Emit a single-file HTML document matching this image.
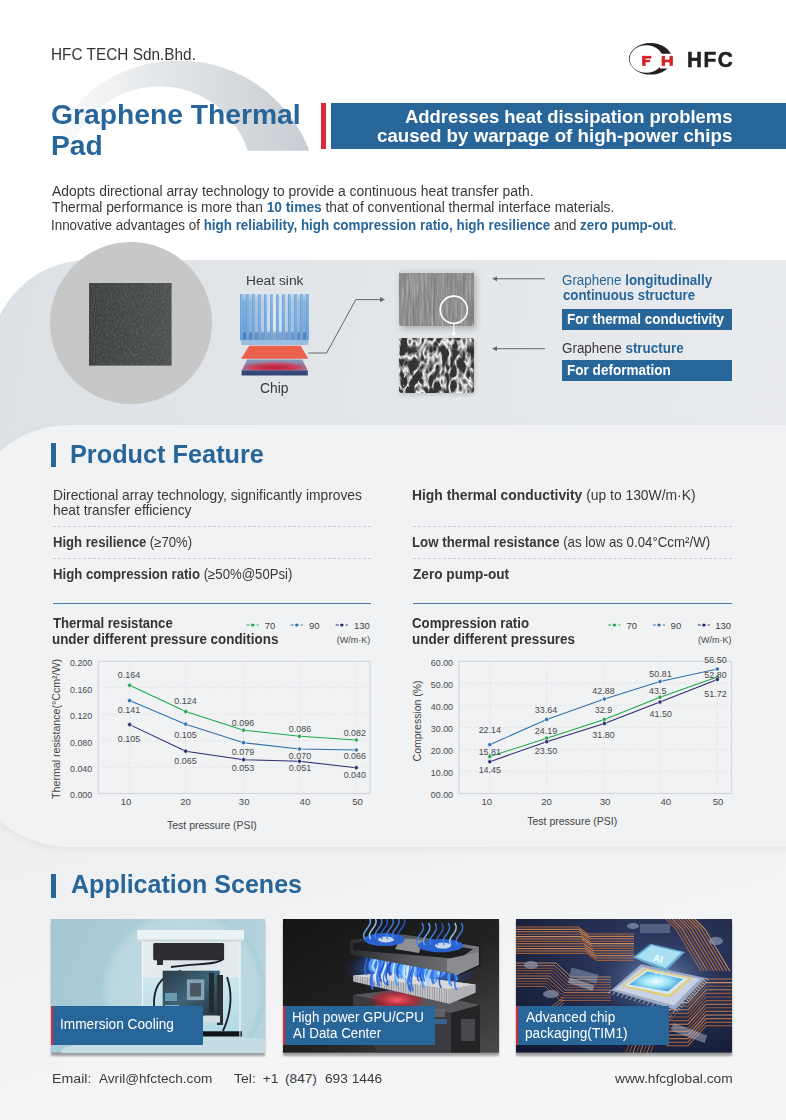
<!DOCTYPE html>
<html><head><meta charset="utf-8"><style>
html,body{margin:0;padding:0;}
body{width:786px;height:1120px;overflow:hidden;position:relative;background:#fff;font-family:"Liberation Sans",sans-serif;}
.t{position:absolute;white-space:pre;}
.t b{font-weight:700;}
.abs{position:absolute;}
</style></head><body>
<div class="abs" style="left:0;top:500px;width:786px;height:620px;background:linear-gradient(165deg,#e4e5e7 0px,#eceef0 300px,#f4f5f6 620px);"></div>
<svg class="abs" style="left:0;top:0" width="786" height="160" viewBox="0 0 786 160">
<defs><linearGradient id="arcg" x1="40" y1="0" x2="315" y2="0" gradientUnits="userSpaceOnUse">
<stop offset="0" stop-color="#ffffff"/><stop offset="0.45" stop-color="#e3e6e9"/><stop offset="1" stop-color="#c6ccd2"/></linearGradient>
<clipPath id="arcc"><rect x="0" y="0" width="786" height="150.8"/></clipPath></defs>
<path clip-path="url(#arcc)" fill="url(#arcg)" fill-rule="evenodd" d="M 38.5 200.4 A 140 140 0 1 0 318.5 200.4 A 140 140 0 1 0 38.5 200.4 Z M 66.8 178.8 A 92.6 92.6 0 1 0 252 178.8 A 92.6 92.6 0 1 0 66.8 178.8 Z"/>
</svg>
<div class="abs" style="left:-10px;top:260px;width:810px;height:260px;border-top-left-radius:98px;background:linear-gradient(100deg,#dce1e5 0%,#e3e6e9 45%,#e9ebee 100%);"></div>
<div class="abs" style="left:-35px;top:424.5px;width:830px;height:422px;border-radius:104px 0 0 104px;background:#f1f2f4;box-shadow:0 3px 8px rgba(0,0,0,0.05);"></div>
<div class="abs" style="left:321px;top:103px;width:5px;height:46.2px;background:#d92a35;"></div>
<div class="abs" style="left:331px;top:103px;width:455px;height:46.2px;background:#28669a;"></div>
<svg class="abs" style="left:0;top:0" width="786" height="90" viewBox="0 0 786 90">
<defs><clipPath id="lgc"><path d="M 600 30 H 700 V 53.8 H 660 V 68.4 H 700 V 90 H 600 Z"/></clipPath></defs>
<path clip-path="url(#lgc)" fill="#231f20" fill-rule="evenodd" d="M 629 58.8 A 21.5 15.8 0 1 0 672 58.8 A 21.5 15.8 0 1 0 629 58.8 Z M 629.7 59 A 16.6 13.8 0 1 0 662.9 59 A 16.6 13.8 0 1 0 629.7 59 Z"/>
<g fill="#d8232a">
<rect x="642.2" y="55.9" width="3.4" height="10"/><rect x="642.2" y="55.9" width="9.2" height="2.7"/><rect x="642.2" y="59.8" width="7.8" height="2.5"/>
<rect x="661.7" y="55.9" width="3.3" height="10"/><rect x="669.5" y="55.9" width="3.3" height="10"/><rect x="661.7" y="59.6" width="11" height="2.7"/>
</g></svg>
<div class="abs" style="left:49.7px;top:241.5px;width:162px;height:162px;border-radius:50%;background:#c7c7c7;"></div>
<svg class="abs" style="left:0;top:0" width="786" height="420" viewBox="0 0 786 420">
<defs>
<filter id="nz1" x="0" y="0" width="1" height="1"><feTurbulence type="fractalNoise" baseFrequency="0.9 0.35" numOctaves="2" seed="4" result="n"/><feColorMatrix in="n" type="matrix" values="0 0 0 0 0.40  0 0 0 0 0.43  0 0 0 0 0.41  0.55 0 0 0 -0.22"/><feComposite in2="SourceGraphic" operator="in"/></filter>
<linearGradient id="sqg" x1="0" y1="0" x2="1" y2="0"><stop offset="0" stop-color="#3c403d"/><stop offset="1" stop-color="#4c514d"/></linearGradient>
</defs>
<rect x="89" y="283" width="82.6" height="82.6" fill="url(#sqg)"/>
<rect x="89" y="283" width="82.6" height="82.6" fill="#fff" filter="url(#nz1)"/>
</svg>
<svg class="abs" style="left:0;top:0" width="786" height="420" viewBox="0 0 786 420">
<defs>
<linearGradient id="fin" x1="0" y1="0" x2="0" y2="1"><stop offset="0" stop-color="#86b8e4"/><stop offset="1" stop-color="#6fa6da"/></linearGradient>
<linearGradient id="gap" x1="0" y1="0" x2="1" y2="0"><stop offset="0" stop-color="#5a92d2"/><stop offset="0.5" stop-color="#dfe5eb"/><stop offset="1" stop-color="#6a9cd6"/></linearGradient>
<linearGradient id="gapv" x1="0" y1="0" x2="0" y2="1"><stop offset="0" stop-color="#e0e4e8" stop-opacity="0.7"/><stop offset="0.15" stop-color="#e0e4e8" stop-opacity="0.25"/><stop offset="0.75" stop-color="#fff" stop-opacity="0"/><stop offset="0.85" stop-color="#2a5aa0" stop-opacity="0.45"/><stop offset="1" stop-color="#2a5aa0" stop-opacity="0.45"/></linearGradient>
<radialGradient id="chipr" cx="0.5" cy="0.75" r="0.6"><stop offset="0" stop-color="#c01c3a"/><stop offset="0.55" stop-color="#c8405a"/><stop offset="1" stop-color="#8796b8"/></radialGradient>
</defs>
<rect x="240.1" y="294.3" width="68.7" height="46" fill="url(#gap)"/>
<rect x="240.1" y="294.3" width="68.7" height="46" fill="url(#gapv)"/>
<rect x="240.10" y="294.3" width="2.7" height="45.6" fill="url(#fin)"/><rect x="240.10" y="294.3" width="0.7" height="45.6" fill="#5f98d6" opacity="0.8"/><rect x="246.12" y="294.3" width="2.7" height="45.6" fill="url(#fin)"/><rect x="246.12" y="294.3" width="0.7" height="45.6" fill="#5f98d6" opacity="0.8"/><rect x="252.14" y="294.3" width="2.7" height="45.6" fill="url(#fin)"/><rect x="252.14" y="294.3" width="0.7" height="45.6" fill="#5f98d6" opacity="0.8"/><rect x="258.16" y="294.3" width="2.7" height="45.6" fill="url(#fin)"/><rect x="258.16" y="294.3" width="0.7" height="45.6" fill="#5f98d6" opacity="0.8"/><rect x="264.18" y="294.3" width="2.7" height="45.6" fill="url(#fin)"/><rect x="264.18" y="294.3" width="0.7" height="45.6" fill="#5f98d6" opacity="0.8"/><rect x="270.20" y="294.3" width="2.7" height="45.6" fill="url(#fin)"/><rect x="270.20" y="294.3" width="0.7" height="45.6" fill="#5f98d6" opacity="0.8"/><rect x="276.22" y="294.3" width="2.7" height="45.6" fill="url(#fin)"/><rect x="276.22" y="294.3" width="0.7" height="45.6" fill="#5f98d6" opacity="0.8"/><rect x="282.24" y="294.3" width="2.7" height="45.6" fill="url(#fin)"/><rect x="282.24" y="294.3" width="0.7" height="45.6" fill="#5f98d6" opacity="0.8"/><rect x="288.26" y="294.3" width="2.7" height="45.6" fill="url(#fin)"/><rect x="288.26" y="294.3" width="0.7" height="45.6" fill="#5f98d6" opacity="0.8"/><rect x="294.28" y="294.3" width="2.7" height="45.6" fill="url(#fin)"/><rect x="294.28" y="294.3" width="0.7" height="45.6" fill="#5f98d6" opacity="0.8"/><rect x="300.30" y="294.3" width="2.7" height="45.6" fill="url(#fin)"/><rect x="300.30" y="294.3" width="0.7" height="45.6" fill="#5f98d6" opacity="0.8"/><rect x="306.32" y="294.3" width="2.7" height="45.6" fill="url(#fin)"/><rect x="306.32" y="294.3" width="0.7" height="45.6" fill="#5f98d6" opacity="0.8"/>
<rect x="241.2" y="339.9" width="67.1" height="5.1" fill="#98bfe2"/>
<polygon points="249.2,345.8 300.6,345.8 308.3,358.7 241.1,358.7" fill="#ea624d"/>
<polygon points="247.2,359.5 302.2,359.5 307.8,370.4 241.6,370.4" fill="url(#chipr)"/>
<rect x="241.6" y="370.4" width="66.2" height="5.1" fill="#34487a"/>
<polyline points="308.3,353 326.6,353 355.8,299.6 381,299.6" fill="none" stroke="#666" stroke-width="1"/>
<polygon points="380,297 385,299.6 380,302.2" fill="#666"/>
<line x1="494" y1="278.8" x2="545" y2="278.8" stroke="#666" stroke-width="1"/>
<polygon points="492,278.8 497,276.4 497,281.2" fill="#666"/>
<line x1="494" y1="348.7" x2="545" y2="348.7" stroke="#666" stroke-width="1"/>
<polygon points="492,348.7 497,346.3 497,351.1" fill="#666"/>
</svg>
<div class="abs" style="left:399px;top:270.8px;width:74.7px;height:55.2px;border-radius:3px;background:#7e7e7e;box-shadow:2px 3px 6px rgba(0,0,0,0.25);"></div>
<div class="abs" style="left:399px;top:337.9px;width:74.7px;height:55.1px;border-radius:3px;background:#333;box-shadow:1px 2px 4px rgba(0,0,0,0.15);"></div>
<svg class="abs" style="left:0;top:0" width="786" height="420" viewBox="0 0 786 420">
<defs>
<filter id="nz2" x="0" y="0" width="1" height="1"><feTurbulence type="fractalNoise" baseFrequency="0.5 0.03" numOctaves="3" seed="9" result="n"/><feColorMatrix in="n" type="matrix" values="0 0 0 0 0.78  0 0 0 0 0.78  0 0 0 0 0.78  1.3 0 0 0 -0.5"/><feComposite in2="SourceGraphic" operator="in"/></filter>
<filter id="nz2b" x="0" y="0" width="1" height="1"><feTurbulence type="fractalNoise" baseFrequency="0.45 0.03" numOctaves="3" seed="3" result="n"/><feColorMatrix in="n" type="matrix" values="0 0 0 0 0.3  0 0 0 0 0.3  0 0 0 0 0.3  1.8 0 0 0 -0.6"/><feComposite in2="SourceGraphic" operator="in"/></filter>
<filter id="nz3" x="0" y="0" width="1" height="1"><feTurbulence type="turbulence" baseFrequency="0.12 0.07" numOctaves="2" seed="2" result="n"/><feColorMatrix in="n" type="matrix" values="0 0 0 0 0.9  0 0 0 0 0.9  0 0 0 0 0.9  -3.6 0 0 0 1.15"/><feComposite in2="SourceGraphic" operator="in"/></filter>
<clipPath id="sem1"><rect x="399" y="270.8" width="74.7" height="55.2" rx="3"/></clipPath>
<clipPath id="sem2"><rect x="399" y="337.9" width="74.7" height="55.1" rx="3"/></clipPath>
</defs>
<g clip-path="url(#sem1)">
<rect x="399" y="270.8" width="74.7" height="55.2" fill="#fff" filter="url(#nz2)"/>
<rect x="399" y="270.8" width="74.7" height="55.2" fill="#fff" filter="url(#nz2b)"/>
<rect x="399" y="270.8" width="74.7" height="2.2" fill="#d8d8d8"/>
</g>
<g clip-path="url(#sem2)">
<rect x="399" y="337.9" width="74.7" height="55.1" fill="#fff" filter="url(#nz3)"/>
</g>
<circle cx="453.8" cy="309.7" r="13.6" fill="none" stroke="#fff" stroke-width="1.6"/>
<line x1="453.8" y1="323.3" x2="453.8" y2="334" stroke="#fff" stroke-width="1.2"/>
<polygon points="451.4,332.5 456.2,332.5 453.8,336.5" fill="#fff"/>
</svg>
<div class="abs" style="left:562px;top:309px;width:170px;height:20.5px;background:#28669a;"></div>
<div class="abs" style="left:562px;top:360px;width:170px;height:21px;background:#28669a;"></div>
<div class="abs" style="left:50.8px;top:443px;width:5.4px;height:23.8px;background:#28669a;"></div>
<div class="abs" style="left:50.8px;top:873.6px;width:5.3px;height:24px;background:#28669a;"></div>
<div class="abs" style="left:53px;top:526px;width:318px;height:0;border-top:1px dashed #c9ccd0;"></div>
<div class="abs" style="left:53px;top:557.5px;width:318px;height:0;border-top:1px dashed #c9ccd0;"></div>
<div class="abs" style="left:53px;top:602.5px;width:318px;height:1.5px;background:#4a7cab;"></div>
<div class="abs" style="left:413px;top:526px;width:319px;height:0;border-top:1px dashed #c9ccd0;"></div>
<div class="abs" style="left:413px;top:557.5px;width:319px;height:0;border-top:1px dashed #c9ccd0;"></div>
<div class="abs" style="left:413px;top:602.5px;width:319px;height:1.5px;background:#4a7cab;"></div>
<svg class="abs" style="left:0;top:0" width="786" height="1120" viewBox="0 0 786 1120" font-family="Liberation Sans">
<rect x="98.3" y="661.3" width="271.7" height="132.20000000000005" fill="none" stroke="#d3d6da" stroke-width="1.2"/>
<line x1="98.3" y1="687.74" x2="370.0" y2="687.74" stroke="#dfe2e5" stroke-width="0.8" stroke-dasharray="3 2"/>
<line x1="98.3" y1="714.18" x2="370.0" y2="714.18" stroke="#dfe2e5" stroke-width="0.8" stroke-dasharray="3 2"/>
<line x1="98.3" y1="740.62" x2="370.0" y2="740.62" stroke="#dfe2e5" stroke-width="0.8" stroke-dasharray="3 2"/>
<line x1="98.3" y1="767.06" x2="370.0" y2="767.06" stroke="#dfe2e5" stroke-width="0.8" stroke-dasharray="3 2"/>
<line x1="129.6" y1="661.3" x2="129.6" y2="793.5" stroke="#dfe2e5" stroke-width="0.8" stroke-dasharray="3 2"/>
<line x1="185.7" y1="661.3" x2="185.7" y2="793.5" stroke="#dfe2e5" stroke-width="0.8" stroke-dasharray="3 2"/>
<line x1="243.6" y1="661.3" x2="243.6" y2="793.5" stroke="#dfe2e5" stroke-width="0.8" stroke-dasharray="3 2"/>
<line x1="299.5" y1="661.3" x2="299.5" y2="793.5" stroke="#dfe2e5" stroke-width="0.8" stroke-dasharray="3 2"/>
<line x1="356.3" y1="661.3" x2="356.3" y2="793.5" stroke="#dfe2e5" stroke-width="0.8" stroke-dasharray="3 2"/>
<text transform="translate(92.2,798.40) scale(0.925,1)" font-size="9.6" fill="#4a4a4a" text-anchor="end">0.000</text>
<text transform="translate(92.2,771.96) scale(0.925,1)" font-size="9.6" fill="#4a4a4a" text-anchor="end">0.040</text>
<text transform="translate(92.2,745.52) scale(0.925,1)" font-size="9.6" fill="#4a4a4a" text-anchor="end">0.080</text>
<text transform="translate(92.2,719.08) scale(0.925,1)" font-size="9.6" fill="#4a4a4a" text-anchor="end">0.120</text>
<text transform="translate(92.2,692.64) scale(0.925,1)" font-size="9.6" fill="#4a4a4a" text-anchor="end">0.160</text>
<text transform="translate(92.2,666.20) scale(0.925,1)" font-size="9.6" fill="#4a4a4a" text-anchor="end">0.200</text>
<text x="126" y="805" font-size="9.6" fill="#4a4a4a" text-anchor="middle">10</text>
<text x="185.5" y="805" font-size="9.6" fill="#4a4a4a" text-anchor="middle">20</text>
<text x="244.2" y="805" font-size="9.6" fill="#4a4a4a" text-anchor="middle">30</text>
<text x="304.9" y="805" font-size="9.6" fill="#4a4a4a" text-anchor="middle">40</text>
<text x="357.5" y="805" font-size="9.6" fill="#4a4a4a" text-anchor="middle">50</text>
<polyline points="129.6,685.3 185.7,711.6 243.6,730.2 299.5,736.3 356.3,740.0" fill="none" stroke="#1fa64a" stroke-width="1.05"/>
<circle cx="129.6" cy="685.3" r="2.1" fill="#1fa64a" stroke="#f1f2f4" stroke-width="0.7"/>
<circle cx="185.7" cy="711.6" r="2.1" fill="#1fa64a" stroke="#f1f2f4" stroke-width="0.7"/>
<circle cx="243.6" cy="730.2" r="2.1" fill="#1fa64a" stroke="#f1f2f4" stroke-width="0.7"/>
<circle cx="299.5" cy="736.3" r="2.1" fill="#1fa64a" stroke="#f1f2f4" stroke-width="0.7"/>
<circle cx="356.3" cy="740.0" r="2.1" fill="#1fa64a" stroke="#f1f2f4" stroke-width="0.7"/>
<polyline points="129.6,700.6 185.7,724.2 243.6,742.7 299.5,749.0 356.3,750.0" fill="none" stroke="#2f70b0" stroke-width="1.05"/>
<circle cx="129.6" cy="700.6" r="2.1" fill="#2f70b0" stroke="#f1f2f4" stroke-width="0.7"/>
<circle cx="185.7" cy="724.2" r="2.1" fill="#2f70b0" stroke="#f1f2f4" stroke-width="0.7"/>
<circle cx="243.6" cy="742.7" r="2.1" fill="#2f70b0" stroke="#f1f2f4" stroke-width="0.7"/>
<circle cx="299.5" cy="749.0" r="2.1" fill="#2f70b0" stroke="#f1f2f4" stroke-width="0.7"/>
<circle cx="356.3" cy="750.0" r="2.1" fill="#2f70b0" stroke="#f1f2f4" stroke-width="0.7"/>
<polyline points="129.6,724.6 185.7,751.2 243.6,759.7 299.5,761.3 356.3,767.7" fill="none" stroke="#2a2a6e" stroke-width="1.05"/>
<circle cx="129.6" cy="724.6" r="2.1" fill="#2a2a6e" stroke="#f1f2f4" stroke-width="0.7"/>
<circle cx="185.7" cy="751.2" r="2.1" fill="#2a2a6e" stroke="#f1f2f4" stroke-width="0.7"/>
<circle cx="243.6" cy="759.7" r="2.1" fill="#2a2a6e" stroke="#f1f2f4" stroke-width="0.7"/>
<circle cx="299.5" cy="761.3" r="2.1" fill="#2a2a6e" stroke="#f1f2f4" stroke-width="0.7"/>
<circle cx="356.3" cy="767.7" r="2.1" fill="#2a2a6e" stroke="#f1f2f4" stroke-width="0.7"/>
<text transform="translate(129,678) scale(0.92,1)" font-size="9.7" fill="#4a4a4a" text-anchor="middle">0.164</text>
<text transform="translate(185.5,703.6) scale(0.92,1)" font-size="9.7" fill="#4a4a4a" text-anchor="middle">0.124</text>
<text transform="translate(243,725.6) scale(0.92,1)" font-size="9.7" fill="#4a4a4a" text-anchor="middle">0.096</text>
<text transform="translate(300,732) scale(0.92,1)" font-size="9.7" fill="#4a4a4a" text-anchor="middle">0.086</text>
<text transform="translate(354.8,735.9) scale(0.92,1)" font-size="9.7" fill="#4a4a4a" text-anchor="middle">0.082</text>
<text transform="translate(129,712.7) scale(0.92,1)" font-size="9.7" fill="#4a4a4a" text-anchor="middle">0.141</text>
<text transform="translate(185.5,737.6) scale(0.92,1)" font-size="9.7" fill="#4a4a4a" text-anchor="middle">0.105</text>
<text transform="translate(243,754.7) scale(0.92,1)" font-size="9.7" fill="#4a4a4a" text-anchor="middle">0.079</text>
<text transform="translate(300,759.2) scale(0.92,1)" font-size="9.7" fill="#4a4a4a" text-anchor="middle">0.070</text>
<text transform="translate(354.8,759.2) scale(0.92,1)" font-size="9.7" fill="#4a4a4a" text-anchor="middle">0.066</text>
<text transform="translate(129,741.9) scale(0.92,1)" font-size="9.7" fill="#4a4a4a" text-anchor="middle">0.105</text>
<text transform="translate(185.5,763.5) scale(0.92,1)" font-size="9.7" fill="#4a4a4a" text-anchor="middle">0.065</text>
<text transform="translate(243,771.4) scale(0.92,1)" font-size="9.7" fill="#4a4a4a" text-anchor="middle">0.053</text>
<text transform="translate(300,771.4) scale(0.92,1)" font-size="9.7" fill="#4a4a4a" text-anchor="middle">0.051</text>
<text transform="translate(354.8,777.8) scale(0.92,1)" font-size="9.7" fill="#4a4a4a" text-anchor="middle">0.040</text>
<line x1="246.6" y1="625" x2="258.6" y2="625" stroke="#1fa64a" stroke-width="1" stroke-dasharray="3 2"/>
<circle cx="252.6" cy="625" r="1.6" fill="#1fa64a"/>
<text x="264.7" y="629" font-size="9.5" fill="#444">70</text>
<line x1="290.7" y1="625" x2="302.7" y2="625" stroke="#2f70b0" stroke-width="1" stroke-dasharray="3 2"/>
<circle cx="296.7" cy="625" r="1.6" fill="#2f70b0"/>
<text x="308.9" y="629" font-size="9.5" fill="#444">90</text>
<line x1="335.7" y1="625" x2="347.7" y2="625" stroke="#2a2a6e" stroke-width="1" stroke-dasharray="3 2"/>
<circle cx="341.7" cy="625" r="1.6" fill="#2a2a6e"/>
<text x="353.9" y="629" font-size="9.5" fill="#444">130</text>
<text x="370.29999999999995" y="643.3" font-size="9" fill="#444" text-anchor="end">(W/m·K)</text>
<text transform="translate(59.5,728.9) rotate(-90)" font-size="10.6" fill="#444" text-anchor="middle" textLength="140" lengthAdjust="spacingAndGlyphs">Thermal resistance(°Ccm²/W)</text>
<text x="167" y="828.5" font-size="10.8" fill="#444" textLength="89.80000000000001" lengthAdjust="spacingAndGlyphs">Test pressure (PSI)</text>
</svg>
<svg class="abs" style="left:0;top:0" width="786" height="1120" viewBox="0 0 786 1120" font-family="Liberation Sans">
<rect x="459.1" y="661.3" width="272.4" height="132.20000000000005" fill="none" stroke="#d3d6da" stroke-width="1.2"/>
<line x1="459.1" y1="683.33" x2="731.5" y2="683.33" stroke="#dfe2e5" stroke-width="0.8" stroke-dasharray="3 2"/>
<line x1="459.1" y1="705.37" x2="731.5" y2="705.37" stroke="#dfe2e5" stroke-width="0.8" stroke-dasharray="3 2"/>
<line x1="459.1" y1="727.40" x2="731.5" y2="727.40" stroke="#dfe2e5" stroke-width="0.8" stroke-dasharray="3 2"/>
<line x1="459.1" y1="749.43" x2="731.5" y2="749.43" stroke="#dfe2e5" stroke-width="0.8" stroke-dasharray="3 2"/>
<line x1="459.1" y1="771.47" x2="731.5" y2="771.47" stroke="#dfe2e5" stroke-width="0.8" stroke-dasharray="3 2"/>
<line x1="489.8" y1="661.3" x2="489.8" y2="793.5" stroke="#dfe2e5" stroke-width="0.8" stroke-dasharray="3 2"/>
<line x1="546.7" y1="661.3" x2="546.7" y2="793.5" stroke="#dfe2e5" stroke-width="0.8" stroke-dasharray="3 2"/>
<line x1="604.4" y1="661.3" x2="604.4" y2="793.5" stroke="#dfe2e5" stroke-width="0.8" stroke-dasharray="3 2"/>
<line x1="660.0" y1="661.3" x2="660.0" y2="793.5" stroke="#dfe2e5" stroke-width="0.8" stroke-dasharray="3 2"/>
<line x1="717.3" y1="661.3" x2="717.3" y2="793.5" stroke="#dfe2e5" stroke-width="0.8" stroke-dasharray="3 2"/>
<text transform="translate(453,798.40) scale(0.925,1)" font-size="9.6" fill="#4a4a4a" text-anchor="end">00.00</text>
<text transform="translate(453,776.37) scale(0.925,1)" font-size="9.6" fill="#4a4a4a" text-anchor="end">10.00</text>
<text transform="translate(453,754.33) scale(0.925,1)" font-size="9.6" fill="#4a4a4a" text-anchor="end">20.00</text>
<text transform="translate(453,732.30) scale(0.925,1)" font-size="9.6" fill="#4a4a4a" text-anchor="end">30.00</text>
<text transform="translate(453,710.27) scale(0.925,1)" font-size="9.6" fill="#4a4a4a" text-anchor="end">40.00</text>
<text transform="translate(453,688.23) scale(0.925,1)" font-size="9.6" fill="#4a4a4a" text-anchor="end">50.00</text>
<text transform="translate(453,666.20) scale(0.925,1)" font-size="9.6" fill="#4a4a4a" text-anchor="end">60.00</text>
<text x="486.8" y="805" font-size="9.6" fill="#4a4a4a" text-anchor="middle">10</text>
<text x="546.5" y="805" font-size="9.6" fill="#4a4a4a" text-anchor="middle">20</text>
<text x="605" y="805" font-size="9.6" fill="#4a4a4a" text-anchor="middle">30</text>
<text x="665.8" y="805" font-size="9.6" fill="#4a4a4a" text-anchor="middle">40</text>
<text x="718" y="805" font-size="9.6" fill="#4a4a4a" text-anchor="middle">50</text>
<polyline points="489.8,756.6 546.7,738.2 604.4,719.4 660.0,697.2 717.3,677.0" fill="none" stroke="#1fa64a" stroke-width="1.05"/>
<circle cx="489.8" cy="756.6" r="2.1" fill="#1fa64a" stroke="#f1f2f4" stroke-width="0.7"/>
<circle cx="546.7" cy="738.2" r="2.1" fill="#1fa64a" stroke="#f1f2f4" stroke-width="0.7"/>
<circle cx="604.4" cy="719.4" r="2.1" fill="#1fa64a" stroke="#f1f2f4" stroke-width="0.7"/>
<circle cx="660.0" cy="697.2" r="2.1" fill="#1fa64a" stroke="#f1f2f4" stroke-width="0.7"/>
<circle cx="717.3" cy="677.0" r="2.1" fill="#1fa64a" stroke="#f1f2f4" stroke-width="0.7"/>
<polyline points="489.8,744.7 546.7,719.4 604.4,699.0 660.0,681.5 717.3,669.0" fill="none" stroke="#2f70b0" stroke-width="1.05"/>
<circle cx="489.8" cy="744.7" r="2.1" fill="#2f70b0" stroke="#f1f2f4" stroke-width="0.7"/>
<circle cx="546.7" cy="719.4" r="2.1" fill="#2f70b0" stroke="#f1f2f4" stroke-width="0.7"/>
<circle cx="604.4" cy="699.0" r="2.1" fill="#2f70b0" stroke="#f1f2f4" stroke-width="0.7"/>
<circle cx="660.0" cy="681.5" r="2.1" fill="#2f70b0" stroke="#f1f2f4" stroke-width="0.7"/>
<circle cx="717.3" cy="669.0" r="2.1" fill="#2f70b0" stroke="#f1f2f4" stroke-width="0.7"/>
<polyline points="489.8,761.7 546.7,741.7 604.4,723.4 660.0,702.1 717.3,679.5" fill="none" stroke="#2a2a6e" stroke-width="1.05"/>
<circle cx="489.8" cy="761.7" r="2.1" fill="#2a2a6e" stroke="#f1f2f4" stroke-width="0.7"/>
<circle cx="546.7" cy="741.7" r="2.1" fill="#2a2a6e" stroke="#f1f2f4" stroke-width="0.7"/>
<circle cx="604.4" cy="723.4" r="2.1" fill="#2a2a6e" stroke="#f1f2f4" stroke-width="0.7"/>
<circle cx="660.0" cy="702.1" r="2.1" fill="#2a2a6e" stroke="#f1f2f4" stroke-width="0.7"/>
<circle cx="717.3" cy="679.5" r="2.1" fill="#2a2a6e" stroke="#f1f2f4" stroke-width="0.7"/>
<text transform="translate(489.8,733.3) scale(0.92,1)" font-size="9.7" fill="#4a4a4a" text-anchor="middle">22.14</text>
<text transform="translate(546,712.7) scale(0.92,1)" font-size="9.7" fill="#4a4a4a" text-anchor="middle">33.64</text>
<text transform="translate(603.5,693.5) scale(0.92,1)" font-size="9.7" fill="#4a4a4a" text-anchor="middle">42.88</text>
<text transform="translate(660.5,676.8) scale(0.92,1)" font-size="9.7" fill="#4a4a4a" text-anchor="middle">50.81</text>
<text transform="translate(715.5,662.6) scale(0.92,1)" font-size="9.7" fill="#4a4a4a" text-anchor="middle">56.50</text>
<text transform="translate(489.8,754.9) scale(0.92,1)" font-size="9.7" fill="#4a4a4a" text-anchor="middle">15.81</text>
<text transform="translate(546,733.9) scale(0.92,1)" font-size="9.7" fill="#4a4a4a" text-anchor="middle">24.19</text>
<text transform="translate(603.5,713.4) scale(0.92,1)" font-size="9.7" fill="#4a4a4a" text-anchor="middle">32.9</text>
<text transform="translate(657.7,693.5) scale(0.92,1)" font-size="9.7" fill="#4a4a4a" text-anchor="middle">43.5</text>
<text transform="translate(715.5,677.5) scale(0.92,1)" font-size="9.7" fill="#4a4a4a" text-anchor="middle">52.80</text>
<text transform="translate(489.8,773.3) scale(0.92,1)" font-size="9.7" fill="#4a4a4a" text-anchor="middle">14.45</text>
<text transform="translate(546,753.8) scale(0.92,1)" font-size="9.7" fill="#4a4a4a" text-anchor="middle">23.50</text>
<text transform="translate(603.5,738.2) scale(0.92,1)" font-size="9.7" fill="#4a4a4a" text-anchor="middle">31.80</text>
<text transform="translate(660.7,717.1) scale(0.92,1)" font-size="9.7" fill="#4a4a4a" text-anchor="middle">41.50</text>
<text transform="translate(715.5,697) scale(0.92,1)" font-size="9.7" fill="#4a4a4a" text-anchor="middle">51.72</text>
<line x1="608.3" y1="625" x2="620.3" y2="625" stroke="#1fa64a" stroke-width="1" stroke-dasharray="3 2"/>
<circle cx="614.3" cy="625" r="1.6" fill="#1fa64a"/>
<text x="626.5" y="629" font-size="9.5" fill="#444">70</text>
<line x1="652.9" y1="625" x2="664.9" y2="625" stroke="#2f70b0" stroke-width="1" stroke-dasharray="3 2"/>
<circle cx="658.9" cy="625" r="1.6" fill="#2f70b0"/>
<text x="670.6" y="629" font-size="9.5" fill="#444">90</text>
<line x1="697.8" y1="625" x2="709.8" y2="625" stroke="#2a2a6e" stroke-width="1" stroke-dasharray="3 2"/>
<circle cx="703.8" cy="625" r="1.6" fill="#2a2a6e"/>
<text x="715.2" y="629" font-size="9.5" fill="#444">130</text>
<text x="731.6" y="643.3" font-size="9" fill="#444" text-anchor="end">(W/m·K)</text>
<text transform="translate(420.59999999999997,720.9) rotate(-90)" font-size="10.6" fill="#444" text-anchor="middle" textLength="81" lengthAdjust="spacingAndGlyphs">Compression (%)</text>
<text x="527.2" y="825.2" font-size="10.8" fill="#444" textLength="90.0" lengthAdjust="spacingAndGlyphs">Test pressure (PSI)</text>
</svg>
<div class="abs" style="left:51.2px;top:919.2px;width:214.1px;height:133.6px;box-shadow:0 2.5px 2px rgba(0,0,0,0.35);background:#888;"></div>
<div class="abs" style="left:283px;top:919.2px;width:216.0px;height:133.6px;box-shadow:0 2.5px 2px rgba(0,0,0,0.35);background:#888;"></div>
<div class="abs" style="left:516px;top:919.2px;width:216.2px;height:133.6px;box-shadow:0 2.5px 2px rgba(0,0,0,0.35);background:#888;"></div>
<svg class="abs" style="left:51.2px;top:919.2px" width="214.1" height="133.6" viewBox="0 0 214.1 133.6">
<defs>
<linearGradient id="c1bg" x1="0" y1="0" x2="1" y2="0.3"><stop offset="0" stop-color="#a3c8d4"/><stop offset="1" stop-color="#b3d3dd"/></linearGradient>
<radialGradient id="c1circ" cx="0.5" cy="0.5" r="0.5"><stop offset="0" stop-color="#c2dce4"/><stop offset="0.9" stop-color="#bad7e0"/><stop offset="1" stop-color="#a9cdd8"/></radialGradient>
<linearGradient id="c1w" x1="0" y1="0" x2="0" y2="1"><stop offset="0" stop-color="#c9e6ee" stop-opacity="0.8"/><stop offset="1" stop-color="#a8d6e4" stop-opacity="0.9"/></linearGradient>
<linearGradient id="c1g" x1="0" y1="0" x2="1" y2="0"><stop offset="0" stop-color="#e6eef0"/><stop offset="0.5" stop-color="#d8e6ea"/><stop offset="1" stop-color="#e2ecef"/></linearGradient>
<linearGradient id="c1mb" x1="0" y1="0" x2="1" y2="1"><stop offset="0" stop-color="#2c3a48"/><stop offset="0.5" stop-color="#3d6478"/><stop offset="1" stop-color="#24303a"/></linearGradient>
</defs>
<rect width="214.1" height="133.6" fill="url(#c1bg)"/>
<circle cx="132.4" cy="72" r="82" fill="url(#c1circ)"/>
<ellipse cx="150" cy="132" rx="140" ry="14" fill="#c4dde4"/>
<rect x="90.9" y="22.3" width="98.6" height="95.2" fill="url(#c1g)"/>
<rect x="90.9" y="58.6" width="98.6" height="58.9" fill="url(#c1w)"/>
<rect x="86.1" y="11" width="106.9" height="11.3" fill="#eaf2f4"/>
<rect x="86.1" y="20.5" width="106.9" height="1.8" fill="#c8d8dc"/>
<rect x="102.2" y="24" width="70.9" height="17.3" rx="1.5" fill="#2b2d31"/>
<rect x="106" y="41" width="6" height="5" fill="#2b2d31"/>
<path d="M 104 96 C 100 70 108 56 130 52 M 120 48 C 150 44 165 46 172 40 M 176 58 C 182 75 180 95 172 112" fill="none" stroke="#1a1c1f" stroke-width="1.8"/>
<rect x="111.7" y="51.7" width="57.1" height="45" fill="url(#c1mb)"/>
<rect x="135.9" y="60.4" width="17.3" height="20.7" fill="#86a2b4"/>
<rect x="139" y="64" width="11" height="13.5" fill="#4a5660"/>
<rect x="114" y="74" width="12" height="8" fill="#6a9ab0"/>
<rect x="114" y="86" width="14" height="6" fill="#86aebe"/>
<rect x="158" y="54" width="5" height="40" fill="#1f2a33"/>
<rect x="166" y="56" width="6" height="50" fill="#2a3036"/>
<rect x="153" y="96.7" width="16" height="6.9" fill="#d8dde0"/>
<rect x="151.5" y="112.3" width="39.4" height="5.2" fill="#121314"/>
<rect x="90.9" y="22.3" width="1.2" height="95.2" fill="#f4f8f9" opacity="0.8"/>
<rect x="188.3" y="22.3" width="1.2" height="95.2" fill="#f4f8f9" opacity="0.8"/>
</svg>
<svg class="abs" style="left:283px;top:919.2px" width="216" height="133.6" viewBox="0 0 216 133.6">
<defs>
<linearGradient id="c2bg" x1="0" y1="0" x2="1" y2="1"><stop offset="0" stop-color="#141414"/><stop offset="0.55" stop-color="#222"/><stop offset="1" stop-color="#4a4a4a"/></linearGradient>
<radialGradient id="c2blue" cx="0.5" cy="0.5" r="0.5"><stop offset="0" stop-color="#bfe6ff"/><stop offset="0.45" stop-color="#3f88f4" stop-opacity="0.95"/><stop offset="1" stop-color="#1a3a9a" stop-opacity="0"/></radialGradient>
<radialGradient id="c2red" cx="0.5" cy="0.5" r="0.5"><stop offset="0" stop-color="#ff5868"/><stop offset="0.6" stop-color="#c02030" stop-opacity="0.7"/><stop offset="1" stop-color="#a01020" stop-opacity="0"/></radialGradient>
<linearGradient id="c2hs" x1="0" y1="0" x2="0" y2="1"><stop offset="0" stop-color="#d8d9db"/><stop offset="1" stop-color="#a4a6a9"/></linearGradient>
<linearGradient id="c2sh" x1="0" y1="0" x2="1" y2="0"><stop offset="0" stop-color="#2a2b2e"/><stop offset="0.5" stop-color="#5a5c60"/><stop offset="1" stop-color="#7a7c80"/></linearGradient>
<pattern id="c2fin" width="2.4" height="10" patternUnits="userSpaceOnUse"><rect width="2.4" height="10" fill="#c4c6c8"/><rect width="0.8" height="10" fill="#8e9093"/></pattern>
</defs>
<rect width="216" height="133.6" fill="url(#c2bg)"/>
<polygon points="70,76 120,70 197,86 197,133.6 95,133.6 70,100" fill="#3a3b3e"/>
<polygon points="70,76 120,70 197,86 168,94" fill="#56585c"/>
<polygon points="168,94 197,86 197,133.6 168,133.6" fill="#232426"/>
<rect x="178" y="100" width="14" height="22" fill="#55585c" opacity="0.7"/><rect x="140" y="90" width="22" height="8" fill="#6a6c70" opacity="0.8"/><rect x="150" y="100" width="14" height="5" fill="#3a6aa0" opacity="0.8"/><rect x="92" y="86" width="18" height="6" fill="#707276" opacity="0.7"/>
<ellipse cx="114" cy="81" rx="30" ry="11" fill="url(#c2red)"/>
<ellipse cx="128" cy="50" rx="66" ry="26" fill="url(#c2blue)"/><ellipse cx="128" cy="48" rx="40" ry="14" fill="#5aa0ff" opacity="0.6"/>
<polygon points="70.2,56.4 104,54 192.5,65.5 192.5,73.6 166.2,84.8 70.2,62.5" fill="url(#c2fin)"/>
<polygon points="70.2,56.4 104,54 192.5,65.5 166.2,70" fill="#d6d8da"/>
<polygon points="166.2,70 192.5,65.5 192.5,73.6 166.2,84.8" fill="#b0b2b5"/>
<path d="M 112.1 60.2 C 105.1 48.1 119.1 38.9 107.8 29.8" fill="none" stroke="#dff0ff" stroke-width="1.4" opacity="0.9"/><path d="M 136.2 62.4 C 129.2 53.0 143.2 45.9 132.1 38.9" fill="none" stroke="#1f4fc0" stroke-width="1.3" opacity="0.9"/><path d="M 90.4 66.3 C 83.4 53.0 97.4 43.1 86.7 33.1" fill="none" stroke="#2f6fe8" stroke-width="2.2" opacity="0.9"/><path d="M 136.2 58.1 C 129.2 46.4 143.2 37.6 131.7 28.7" fill="none" stroke="#2f6fe8" stroke-width="1.3" opacity="0.9"/><path d="M 161.8 53.8 C 154.8 44.9 168.8 38.2 158.0 31.5" fill="none" stroke="#9fd8ff" stroke-width="2.1" opacity="0.9"/><path d="M 145.4 58.4 C 138.4 46.7 152.4 38.0 142.3 29.2" fill="none" stroke="#4f9cff" stroke-width="2.1" opacity="0.9"/><path d="M 87.8 52.0 C 80.8 42.7 94.8 35.7 89.6 28.7" fill="none" stroke="#1f4fc0" stroke-width="2.4" opacity="0.9"/><path d="M 125.3 64.9 C 118.3 54.6 132.3 46.8 122.8 39.1" fill="none" stroke="#2f6fe8" stroke-width="2.3" opacity="0.9"/><path d="M 104.7 63.3 C 97.7 51.9 111.7 43.4 108.5 34.9" fill="none" stroke="#1f4fc0" stroke-width="1.7" opacity="0.9"/><path d="M 173.2 56.1 C 166.2 45.4 180.2 37.4 175.7 29.4" fill="none" stroke="#2f6fe8" stroke-width="2.7" opacity="0.9"/><path d="M 121.2 60.8 C 114.2 52.3 128.2 45.9 121.8 39.5" fill="none" stroke="#9fd8ff" stroke-width="1.7" opacity="0.9"/><path d="M 114.6 66.7 C 107.6 53.6 121.6 43.8 110.3 34.0" fill="none" stroke="#4f9cff" stroke-width="2.7" opacity="0.9"/><path d="M 126.1 56.9 C 119.1 48.6 133.1 42.3 128.1 36.0" fill="none" stroke="#dff0ff" stroke-width="2.8" opacity="0.9"/><path d="M 158.4 57.6 C 151.4 47.1 165.4 39.3 160.1 31.4" fill="none" stroke="#4f9cff" stroke-width="2.7" opacity="0.9"/><path d="M 115.1 63.2 C 108.1 52.1 122.1 43.7 112.2 35.3" fill="none" stroke="#9fd8ff" stroke-width="1.4" opacity="0.9"/><path d="M 105.0 66.6 C 98.0 53.1 112.0 42.9 100.8 32.7" fill="none" stroke="#1f4fc0" stroke-width="1.8" opacity="0.9"/><path d="M 107.8 56.5 C 100.8 45.8 114.8 37.7 108.3 29.6" fill="none" stroke="#1f4fc0" stroke-width="2.8" opacity="0.9"/><path d="M 145.5 56.3 C 138.5 46.8 152.5 39.7 141.3 32.6" fill="none" stroke="#2f6fe8" stroke-width="1.6" opacity="0.9"/><path d="M 103.7 63.2 C 96.7 51.5 110.7 42.6 101.3 33.8" fill="none" stroke="#4f9cff" stroke-width="1.4" opacity="0.9"/><path d="M 131.7 60.4 C 124.7 50.4 138.7 42.8 128.0 35.3" fill="none" stroke="#dff0ff" stroke-width="2.7" opacity="0.9"/><path d="M 142.9 64.2 C 135.9 53.3 149.9 45.1 146.6 36.9" fill="none" stroke="#dff0ff" stroke-width="1.8" opacity="0.9"/><path d="M 119.1 59.4 C 112.1 47.3 126.1 38.3 114.7 29.2" fill="none" stroke="#4f9cff" stroke-width="2.8" opacity="0.9"/><path d="M 123.0 58.9 C 116.0 47.1 130.0 38.2 119.0 29.3" fill="none" stroke="#dff0ff" stroke-width="1.4" opacity="0.9"/><path d="M 91.4 52.8 C 84.4 44.6 98.4 38.5 95.2 32.4" fill="none" stroke="#dff0ff" stroke-width="1.8" opacity="0.9"/><path d="M 141.0 69.1 C 134.0 57.2 148.0 48.4 140.7 39.5" fill="none" stroke="#4f9cff" stroke-width="2.6" opacity="0.9"/><path d="M 174.4 61.3 C 167.4 50.2 181.4 41.9 170.2 33.6" fill="none" stroke="#4f9cff" stroke-width="2.4" opacity="0.9"/><path d="M 150.9 64.8 C 143.9 52.4 157.9 43.1 151.0 33.7" fill="none" stroke="#2f6fe8" stroke-width="2.7" opacity="0.9"/><path d="M 131.1 58.4 C 124.1 47.0 138.1 38.4 126.4 29.8" fill="none" stroke="#dff0ff" stroke-width="1.7" opacity="0.9"/><path d="M 141.8 62.6 C 134.8 49.2 148.8 39.2 142.0 29.1" fill="none" stroke="#2f6fe8" stroke-width="1.8" opacity="0.9"/><path d="M 102.7 62.5 C 95.7 51.3 109.7 42.9 104.1 34.5" fill="none" stroke="#dff0ff" stroke-width="2.5" opacity="0.9"/><path d="M 173.6 71.1 C 166.6 58.0 180.6 48.1 176.8 38.2" fill="none" stroke="#2f6fe8" stroke-width="1.5" opacity="0.9"/><path d="M 127.8 72.6 C 120.8 58.3 134.8 47.5 130.7 36.8" fill="none" stroke="#1f4fc0" stroke-width="1.6" opacity="0.9"/><path d="M 146.4 66.6 C 139.4 55.8 153.4 47.6 150.8 39.5" fill="none" stroke="#9fd8ff" stroke-width="2.7" opacity="0.9"/><path d="M 115.9 54.3 C 108.9 44.8 122.9 37.7 112.9 30.6" fill="none" stroke="#2f6fe8" stroke-width="2.0" opacity="0.9"/><path d="M 173.6 55.4 C 166.6 47.3 180.6 41.3 177.7 35.3" fill="none" stroke="#9fd8ff" stroke-width="2.5" opacity="0.9"/><path d="M 89.9 70.5 C 82.9 56.7 96.9 46.3 92.7 35.9" fill="none" stroke="#2f6fe8" stroke-width="2.0" opacity="0.9"/><path d="M 98.6 62.8 C 91.6 52.7 105.6 45.1 101.6 37.5" fill="none" stroke="#1f4fc0" stroke-width="1.9" opacity="0.9"/><path d="M 151.1 51.6 C 144.1 42.5 158.1 35.8 156.1 29.0" fill="none" stroke="#4f9cff" stroke-width="1.4" opacity="0.9"/><path d="M 166.2 60.0 C 159.2 51.1 173.2 44.4 169.4 37.7" fill="none" stroke="#1f4fc0" stroke-width="2.3" opacity="0.9"/><path d="M 114.6 56.7 C 107.6 47.8 121.6 41.2 109.7 34.6" fill="none" stroke="#4f9cff" stroke-width="2.0" opacity="0.9"/><path d="M 168.8 67.2 C 161.8 53.6 175.8 43.4 172.1 33.2" fill="none" stroke="#2f6fe8" stroke-width="1.2" opacity="0.9"/><path d="M 101.8 66.2 C 94.8 53.3 108.8 43.7 100.0 34.0" fill="none" stroke="#dff0ff" stroke-width="1.9" opacity="0.9"/><path d="M 94.2 64.6 C 87.2 54.3 101.2 46.6 93.8 38.9" fill="none" stroke="#dff0ff" stroke-width="2.5" opacity="0.9"/><path d="M 130.1 72.0 C 123.1 58.4 137.1 48.1 126.4 37.9" fill="none" stroke="#2f6fe8" stroke-width="2.0" opacity="0.9"/><path d="M 83.7 56.2 C 76.7 47.0 90.7 40.2 78.8 33.3" fill="none" stroke="#2f6fe8" stroke-width="1.5" opacity="0.9"/><path d="M 126.0 65.6 C 119.0 54.0 133.0 45.4 124.3 36.7" fill="none" stroke="#dff0ff" stroke-width="2.0" opacity="0.9"/><path d="M 126.9 71.4 C 119.9 57.8 133.9 47.6 122.4 37.3" fill="none" stroke="#2f6fe8" stroke-width="1.6" opacity="0.9"/><path d="M 153.8 63.1 C 146.8 51.5 160.8 42.8 156.4 34.1" fill="none" stroke="#4f9cff" stroke-width="1.9" opacity="0.9"/><path d="M 139.0 62.3 C 132.0 51.0 146.0 42.5 140.9 34.1" fill="none" stroke="#1f4fc0" stroke-width="2.0" opacity="0.9"/><path d="M 157.1 58.1 C 150.1 48.5 164.1 41.3 157.3 34.1" fill="none" stroke="#9fd8ff" stroke-width="2.7" opacity="0.9"/><path d="M 165.0 57.6 C 158.0 46.7 172.0 38.6 164.2 30.4" fill="none" stroke="#1f4fc0" stroke-width="1.9" opacity="0.9"/><path d="M 88.7 52.1 C 81.7 43.6 95.7 37.2 90.4 30.9" fill="none" stroke="#4f9cff" stroke-width="2.6" opacity="0.9"/><path d="M 96.4 67.2 C 89.4 54.9 103.4 45.8 92.8 36.6" fill="none" stroke="#2f6fe8" stroke-width="2.7" opacity="0.9"/><path d="M 102.4 65.8 C 95.4 55.3 109.4 47.3 102.3 39.4" fill="none" stroke="#2f6fe8" stroke-width="1.5" opacity="0.9"/><path d="M 122.1 59.6 C 115.1 49.4 129.1 41.8 119.1 34.2" fill="none" stroke="#9fd8ff" stroke-width="1.3" opacity="0.9"/><path d="M 116.0 59.4 C 109.0 48.5 123.0 40.3 118.1 32.1" fill="none" stroke="#1f4fc0" stroke-width="1.7" opacity="0.9"/><path d="M 140.0 55.2 C 133.0 46.8 147.0 40.5 144.9 34.1" fill="none" stroke="#2f6fe8" stroke-width="2.8" opacity="0.9"/><path d="M 91.7 51.8 C 84.7 43.6 98.7 37.4 94.5 31.2" fill="none" stroke="#9fd8ff" stroke-width="2.4" opacity="0.9"/><path d="M 158.2 69.0 C 151.2 56.7 165.2 47.4 162.7 38.2" fill="none" stroke="#1f4fc0" stroke-width="1.4" opacity="0.9"/><path d="M 167.5 66.1 C 160.5 53.6 174.5 44.2 163.4 34.8" fill="none" stroke="#4f9cff" stroke-width="2.5" opacity="0.9"/>
<polygon points="66.1,20 120,14.5 196.6,27 196.6,46.3 176,56 66.1,35.2" fill="url(#c2sh)"/>
<polygon points="70,24 120,19 190,30 176,40 70,31" fill="#1c1d1f"/><polygon points="118,19 140,21 136,34 112,30" fill="#8e9094"/>
<polygon points="164,40 196.6,33 196.6,46.3 176,56 164,52" fill="#8a8c90"/>
<polyline points="66.1,35.2 66.1,20 120,14.5 196.6,27 196.6,46.3 176,56" fill="none" stroke="#1a1a1a" stroke-width="1.4"/>
<ellipse cx="101.5" cy="20.5" rx="20.2" ry="6.6" fill="#2a62d0"/>
<ellipse cx="157.6" cy="26.6" rx="22.7" ry="6.6" fill="#2a62d0"/>
<ellipse cx="103" cy="20.5" rx="8" ry="3" fill="#c8d8e8"/>
<ellipse cx="160" cy="26.6" rx="8" ry="3" fill="#c8d8e8"/>
<path d="M 82.0 20.0 C 76.0 12.0 92.0 8.0 86.0 -2.0" fill="none" stroke="#6fb4ff" stroke-width="1.5" opacity="0.9"/><path d="M 87.7 20.0 C 81.7 12.0 97.7 8.0 91.7 -2.0" fill="none" stroke="#a8d8ff" stroke-width="1.5" opacity="0.9"/><path d="M 93.4 20.0 C 87.4 12.0 103.4 8.0 97.4 -2.0" fill="none" stroke="#3f84f0" stroke-width="1.5" opacity="0.9"/><path d="M 99.1 20.0 C 93.1 12.0 109.1 8.0 103.1 -2.0" fill="none" stroke="#2a5fd8" stroke-width="1.5" opacity="0.9"/><path d="M 104.9 20.0 C 98.9 12.0 114.9 8.0 108.9 -2.0" fill="none" stroke="#3f84f0" stroke-width="1.5" opacity="0.9"/><path d="M 110.6 20.0 C 104.6 12.0 120.6 8.0 114.6 -2.0" fill="none" stroke="#3f84f0" stroke-width="1.5" opacity="0.9"/><path d="M 116.3 20.0 C 110.3 12.0 126.3 8.0 120.3 -2.0" fill="none" stroke="#2a5fd8" stroke-width="1.5" opacity="0.9"/><path d="M 135.0 26.0 C 129.0 18.0 145.0 14.0 139.0 4.0" fill="none" stroke="#3f84f0" stroke-width="1.5" opacity="0.9"/><path d="M 141.6 26.0 C 135.6 18.0 151.6 14.0 145.6 4.0" fill="none" stroke="#6fb4ff" stroke-width="1.5" opacity="0.9"/><path d="M 148.1 26.0 C 142.1 18.0 158.1 14.0 152.1 4.0" fill="none" stroke="#3f84f0" stroke-width="1.5" opacity="0.9"/><path d="M 154.7 26.0 C 148.7 18.0 164.7 14.0 158.7 4.0" fill="none" stroke="#2a5fd8" stroke-width="1.5" opacity="0.9"/><path d="M 161.3 26.0 C 155.3 18.0 171.3 14.0 165.3 4.0" fill="none" stroke="#3f84f0" stroke-width="1.5" opacity="0.9"/><path d="M 167.9 26.0 C 161.9 18.0 177.9 14.0 171.9 4.0" fill="none" stroke="#a8d8ff" stroke-width="1.5" opacity="0.9"/><path d="M 174.4 26.0 C 168.4 18.0 184.4 14.0 178.4 4.0" fill="none" stroke="#3f84f0" stroke-width="1.5" opacity="0.9"/>
</svg>
<svg class="abs" style="left:516px;top:919.2px" width="216.2" height="133.6" viewBox="0 0 216.2 133.6">
<defs>
<radialGradient id="c3bg" cx="0.65" cy="0.3" r="0.85"><stop offset="0" stop-color="#34406a"/><stop offset="1" stop-color="#141a34"/></radialGradient>
<radialGradient id="c3glow" cx="0.5" cy="0.5" r="0.5"><stop offset="0" stop-color="#f4ffff"/><stop offset="0.5" stop-color="#9ae4f6"/><stop offset="1" stop-color="#4aa0d8"/></radialGradient>
<radialGradient id="c3halo" cx="0.5" cy="0.5" r="0.5"><stop offset="0" stop-color="#bfe8ff" stop-opacity="0.55"/><stop offset="1" stop-color="#4a80c0" stop-opacity="0"/></radialGradient>
</defs>
<rect width="216.2" height="133.6" fill="url(#c3bg)"/>
<polyline points="0.0,8.0 62.0,8.0 72.0,15.0 118.0,15.0" fill="none" stroke="#b86a3c" stroke-width="1.1" opacity="0.9"/><polyline points="0.0,10.4 62.8,10.4 72.8,17.4 118.0,17.4" fill="none" stroke="#d88850" stroke-width="1.1" opacity="0.9"/><polyline points="0.0,12.8 63.6,12.8 73.6,19.8 118.0,19.8" fill="none" stroke="#d88850" stroke-width="1.1" opacity="0.9"/><polyline points="0.0,15.2 64.4,15.2 74.4,22.2 118.0,22.2" fill="none" stroke="#b86a3c" stroke-width="1.1" opacity="0.9"/><polyline points="0.0,17.6 65.2,17.6 75.2,24.6 118.0,24.6" fill="none" stroke="#e09a62" stroke-width="1.1" opacity="0.9"/><polyline points="0.0,20.0 66.0,20.0 76.0,27.0 118.0,27.0" fill="none" stroke="#d88850" stroke-width="1.1" opacity="0.9"/><polyline points="0.0,22.4 66.8,22.4 76.8,29.4 118.0,29.4" fill="none" stroke="#a85e34" stroke-width="1.1" opacity="0.9"/><polyline points="0.0,24.8 67.6,24.8 77.6,31.8 118.0,31.8" fill="none" stroke="#d88850" stroke-width="1.1" opacity="0.9"/><polyline points="0.0,27.2 68.4,27.2 78.4,34.2 118.0,34.2" fill="none" stroke="#c87a46" stroke-width="1.1" opacity="0.9"/><polyline points="0.0,29.6 69.2,29.6 79.2,36.6 118.0,36.6" fill="none" stroke="#d88850" stroke-width="1.1" opacity="0.9"/><polyline points="0.0,32.0 70.0,32.0 80.0,39.0 118.0,39.0" fill="none" stroke="#c87a46" stroke-width="1.1" opacity="0.9"/><polyline points="0.0,34.4 70.8,34.4 80.8,41.4 118.0,41.4" fill="none" stroke="#a85e34" stroke-width="1.1" opacity="0.9"/><polyline points="0.0,44.0 40.0,44.0 55.0,58.0 95.0,58.0" fill="none" stroke="#e09a62" stroke-width="1.0" opacity="0.8"/><polyline points="0.0,46.6 38.8,46.6 53.8,60.6 95.0,60.6" fill="none" stroke="#d88850" stroke-width="1.0" opacity="0.8"/><polyline points="0.0,49.2 37.6,49.2 52.6,63.2 95.0,63.2" fill="none" stroke="#b86a3c" stroke-width="1.0" opacity="0.8"/><polyline points="0.0,51.8 36.4,51.8 51.4,65.8 95.0,65.8" fill="none" stroke="#b86a3c" stroke-width="1.0" opacity="0.8"/><polyline points="0.0,54.4 35.2,54.4 50.2,68.4 95.0,68.4" fill="none" stroke="#a85e34" stroke-width="1.0" opacity="0.8"/><polyline points="0.0,57.0 34.0,57.0 49.0,71.0 95.0,71.0" fill="none" stroke="#d88850" stroke-width="1.0" opacity="0.8"/><polyline points="0.0,59.6 32.8,59.6 47.8,73.6 95.0,73.6" fill="none" stroke="#d88850" stroke-width="1.0" opacity="0.8"/><polyline points="0.0,62.2 31.6,62.2 46.6,76.2 95.0,76.2" fill="none" stroke="#a85e34" stroke-width="1.0" opacity="0.8"/><polyline points="0.0,64.8 30.4,64.8 45.4,78.8 95.0,78.8" fill="none" stroke="#a85e34" stroke-width="1.0" opacity="0.8"/><polyline points="0.0,67.4 29.2,67.4 44.2,81.4 95.0,81.4" fill="none" stroke="#b86a3c" stroke-width="1.0" opacity="0.8"/><polyline points="150.0,0.0 160.0,10.0 185.0,52.0" fill="none" stroke="#b86a3c" stroke-width="1.1" opacity="0.85"/><polyline points="153.2,0.0 163.2,10.0 188.2,52.0" fill="none" stroke="#b86a3c" stroke-width="1.1" opacity="0.85"/><polyline points="156.4,0.0 166.4,10.0 191.4,52.0" fill="none" stroke="#d88850" stroke-width="1.1" opacity="0.85"/><polyline points="159.6,0.0 169.6,10.0 194.6,52.0" fill="none" stroke="#a85e34" stroke-width="1.1" opacity="0.85"/><polyline points="162.8,0.0 172.8,10.0 197.8,52.0" fill="none" stroke="#c87a46" stroke-width="1.1" opacity="0.85"/><polyline points="166.0,0.0 176.0,10.0 201.0,52.0" fill="none" stroke="#c87a46" stroke-width="1.1" opacity="0.85"/><polyline points="169.2,0.0 179.2,10.0 204.2,52.0" fill="none" stroke="#b86a3c" stroke-width="1.1" opacity="0.85"/><polyline points="172.4,0.0 182.4,10.0 207.4,52.0" fill="none" stroke="#d88850" stroke-width="1.1" opacity="0.85"/><polyline points="175.6,0.0 185.6,10.0 210.6,52.0" fill="none" stroke="#c87a46" stroke-width="1.1" opacity="0.85"/><polyline points="178.8,0.0 188.8,10.0 213.8,52.0" fill="none" stroke="#e09a62" stroke-width="1.1" opacity="0.85"/><polyline points="216.0,60.0 190.0,60.0 172.0,80.0 150.0,80.0" fill="none" stroke="#c87a46" stroke-width="1.1" opacity="0.9"/><polyline points="216.0,63.6 190.0,63.6 172.0,83.6 150.0,83.6" fill="none" stroke="#e09a62" stroke-width="1.1" opacity="0.9"/><polyline points="216.0,67.2 190.0,67.2 172.0,87.2 150.0,87.2" fill="none" stroke="#a85e34" stroke-width="1.1" opacity="0.9"/><polyline points="216.0,70.8 190.0,70.8 172.0,90.8 150.0,90.8" fill="none" stroke="#d88850" stroke-width="1.1" opacity="0.9"/><polyline points="216.0,74.4 190.0,74.4 172.0,94.4 150.0,94.4" fill="none" stroke="#a85e34" stroke-width="1.1" opacity="0.9"/><polyline points="216.0,78.0 190.0,78.0 172.0,98.0 150.0,98.0" fill="none" stroke="#a85e34" stroke-width="1.1" opacity="0.9"/><polyline points="216.0,81.6 190.0,81.6 172.0,101.6 150.0,101.6" fill="none" stroke="#a85e34" stroke-width="1.1" opacity="0.9"/><polyline points="216.0,85.2 190.0,85.2 172.0,105.2 150.0,105.2" fill="none" stroke="#d88850" stroke-width="1.1" opacity="0.9"/><polyline points="216.0,88.8 190.0,88.8 172.0,108.8 150.0,108.8" fill="none" stroke="#a85e34" stroke-width="1.1" opacity="0.9"/><polyline points="216.0,92.4 190.0,92.4 172.0,112.4 150.0,112.4" fill="none" stroke="#b86a3c" stroke-width="1.1" opacity="0.9"/><polyline points="216.0,96.0 190.0,96.0 172.0,116.0 150.0,116.0" fill="none" stroke="#e09a62" stroke-width="1.1" opacity="0.9"/><polyline points="216.0,99.6 190.0,99.6 172.0,119.6 150.0,119.6" fill="none" stroke="#c87a46" stroke-width="1.1" opacity="0.9"/><polyline points="216.0,103.2 190.0,103.2 172.0,123.2 150.0,123.2" fill="none" stroke="#c87a46" stroke-width="1.1" opacity="0.9"/><polyline points="216.0,106.8 190.0,106.8 172.0,126.8 150.0,126.8" fill="none" stroke="#b86a3c" stroke-width="1.1" opacity="0.9"/><polyline points="110.0,134.0 118.0,112.0 135.0,96.0" fill="none" stroke="#a85e34" stroke-width="1.0" opacity="0.8"/><polyline points="113.5,134.0 121.5,112.0 138.5,96.0" fill="none" stroke="#b86a3c" stroke-width="1.0" opacity="0.8"/><polyline points="117.0,134.0 125.0,112.0 142.0,96.0" fill="none" stroke="#e09a62" stroke-width="1.0" opacity="0.8"/><polyline points="120.5,134.0 128.5,112.0 145.5,96.0" fill="none" stroke="#a85e34" stroke-width="1.0" opacity="0.8"/><polyline points="124.0,134.0 132.0,112.0 149.0,96.0" fill="none" stroke="#e09a62" stroke-width="1.0" opacity="0.8"/><polyline points="127.5,134.0 135.5,112.0 152.5,96.0" fill="none" stroke="#a85e34" stroke-width="1.0" opacity="0.8"/><polyline points="131.0,134.0 139.0,112.0 156.0,96.0" fill="none" stroke="#d88850" stroke-width="1.0" opacity="0.8"/><polyline points="134.5,134.0 142.5,112.0 159.5,96.0" fill="none" stroke="#a85e34" stroke-width="1.0" opacity="0.8"/><polyline points="0.0,92.0 30.0,92.0 48.0,78.0" fill="none" stroke="#d88850" stroke-width="1.0" opacity="0.7"/><polyline points="0.0,95.0 30.0,95.0 48.0,81.0" fill="none" stroke="#e09a62" stroke-width="1.0" opacity="0.7"/><polyline points="0.0,98.0 30.0,98.0 48.0,84.0" fill="none" stroke="#d88850" stroke-width="1.0" opacity="0.7"/><polyline points="0.0,101.0 30.0,101.0 48.0,87.0" fill="none" stroke="#d88850" stroke-width="1.0" opacity="0.7"/><polyline points="0.0,104.0 30.0,104.0 48.0,90.0" fill="none" stroke="#a85e34" stroke-width="1.0" opacity="0.7"/><polyline points="0.0,107.0 30.0,107.0 48.0,93.0" fill="none" stroke="#d88850" stroke-width="1.0" opacity="0.7"/><polyline points="0.0,110.0 30.0,110.0 48.0,96.0" fill="none" stroke="#b86a3c" stroke-width="1.0" opacity="0.7"/><polyline points="0.0,113.0 30.0,113.0 48.0,99.0" fill="none" stroke="#e09a62" stroke-width="1.0" opacity="0.7"/>
<ellipse cx="142" cy="62" rx="60" ry="38" fill="url(#c3halo)"/>
<line x1="94.8" y1="71.4" x2="92.3" y2="74.4" stroke="#c8d0e0" stroke-width="0.8"/><line x1="159.4" y1="90.7" x2="162.4" y2="92.7" stroke="#c8d0e0" stroke-width="0.8"/><line x1="99.1" y1="72.7" x2="96.6" y2="75.7" stroke="#c8d0e0" stroke-width="0.8"/><line x1="161.4" y1="88.6" x2="164.4" y2="90.6" stroke="#c8d0e0" stroke-width="0.8"/><line x1="103.4" y1="74.0" x2="100.9" y2="77.0" stroke="#c8d0e0" stroke-width="0.8"/><line x1="163.4" y1="86.5" x2="166.4" y2="88.5" stroke="#c8d0e0" stroke-width="0.8"/><line x1="107.7" y1="75.3" x2="105.2" y2="78.3" stroke="#c8d0e0" stroke-width="0.8"/><line x1="165.4" y1="84.4" x2="168.4" y2="86.4" stroke="#c8d0e0" stroke-width="0.8"/><line x1="112.0" y1="76.5" x2="109.5" y2="79.5" stroke="#c8d0e0" stroke-width="0.8"/><line x1="167.5" y1="82.3" x2="170.5" y2="84.3" stroke="#c8d0e0" stroke-width="0.8"/><line x1="116.3" y1="77.8" x2="113.8" y2="80.8" stroke="#c8d0e0" stroke-width="0.8"/><line x1="169.5" y1="80.2" x2="172.5" y2="82.2" stroke="#c8d0e0" stroke-width="0.8"/><line x1="120.6" y1="79.1" x2="118.1" y2="82.1" stroke="#c8d0e0" stroke-width="0.8"/><line x1="171.5" y1="78.1" x2="174.5" y2="80.1" stroke="#c8d0e0" stroke-width="0.8"/><line x1="124.9" y1="80.4" x2="122.4" y2="83.4" stroke="#c8d0e0" stroke-width="0.8"/><line x1="173.5" y1="76.0" x2="176.5" y2="78.0" stroke="#c8d0e0" stroke-width="0.8"/><line x1="129.3" y1="81.7" x2="126.8" y2="84.7" stroke="#c8d0e0" stroke-width="0.8"/><line x1="175.5" y1="73.8" x2="178.5" y2="75.8" stroke="#c8d0e0" stroke-width="0.8"/><line x1="133.6" y1="83.0" x2="131.1" y2="86.0" stroke="#c8d0e0" stroke-width="0.8"/><line x1="177.5" y1="71.7" x2="180.5" y2="73.7" stroke="#c8d0e0" stroke-width="0.8"/><line x1="137.9" y1="84.3" x2="135.4" y2="87.3" stroke="#c8d0e0" stroke-width="0.8"/><line x1="179.5" y1="69.6" x2="182.5" y2="71.6" stroke="#c8d0e0" stroke-width="0.8"/><line x1="142.2" y1="85.6" x2="139.7" y2="88.6" stroke="#c8d0e0" stroke-width="0.8"/><line x1="181.5" y1="67.5" x2="184.5" y2="69.5" stroke="#c8d0e0" stroke-width="0.8"/><line x1="146.5" y1="86.8" x2="144.0" y2="89.8" stroke="#c8d0e0" stroke-width="0.8"/><line x1="183.6" y1="65.4" x2="186.6" y2="67.4" stroke="#c8d0e0" stroke-width="0.8"/><line x1="150.8" y1="88.1" x2="148.3" y2="91.1" stroke="#c8d0e0" stroke-width="0.8"/><line x1="185.6" y1="63.3" x2="188.6" y2="65.3" stroke="#c8d0e0" stroke-width="0.8"/><line x1="155.1" y1="89.4" x2="152.6" y2="92.4" stroke="#c8d0e0" stroke-width="0.8"/><line x1="187.6" y1="61.2" x2="190.6" y2="63.2" stroke="#c8d0e0" stroke-width="0.8"/><line x1="159.4" y1="90.7" x2="156.9" y2="93.7" stroke="#c8d0e0" stroke-width="0.8"/><line x1="189.6" y1="59.1" x2="192.6" y2="61.1" stroke="#c8d0e0" stroke-width="0.8"/>
<polygon points="94.8,71.4 125,45.3 189.6,59.1 159.4,90.7" fill="#9aa8c4"/>
<polygon points="99,70.5 126,48 184,60 158,86.5" fill="#c8d2e2"/>
<polygon points="105.8,67.3 129.2,49.5 175.9,59.1 153.9,78.3" fill="#e4cc68"/>
<polygon points="108.5,66.5 130,51 172.5,59.6 153,75.8" fill="#d8e8f0"/>
<polygon points="113,65.5 131.5,52.5 167,60 152,72.5" fill="url(#c3glow)"/>
<line x1="140" y1="52" x2="140" y2="62" stroke="#e0f4ff" stroke-width="0.6"/>
<line x1="146" y1="52" x2="146" y2="62" stroke="#e0f4ff" stroke-width="0.6"/>
<polygon points="116.8,38.5 134.7,24.7 169,33 149.8,52.2" fill="#6aaad0"/>
<polygon points="120,38 135.5,26.5 165.5,33.5 149.5,49" fill="#a8e0f2"/>
<text x="142" y="43" font-family="Liberation Sans" font-weight="700" font-size="10" fill="#f0ffff" text-anchor="middle" transform="rotate(12 142 40)">AI</text>
<rect x="54" y="52" width="28" height="9" fill="#8a96b0" opacity="0.55" transform="rotate(15 68 56)"/>
<rect x="124" y="5" width="30" height="9" fill="#8a96b0" opacity="0.45"/>
<ellipse cx="15" cy="46" rx="7" ry="4" fill="#8a96b0" opacity="0.7"/>
<ellipse cx="35" cy="75" rx="8" ry="4" fill="#8a96b0" opacity="0.7"/>
<ellipse cx="117" cy="7" rx="6" ry="3" fill="#8a96b0" opacity="0.7"/>
<ellipse cx="200" cy="22" rx="7" ry="4" fill="#8a96b0" opacity="0.7"/>
<rect x="52" y="62" width="26" height="6" fill="#b8c4d8" opacity="0.5" transform="rotate(18 65 65)"/>
<rect x="155" y="110" width="36" height="8" fill="#b8c4d8" opacity="0.45" transform="rotate(20 173 114)"/>
</svg>
<div class="abs" style="left:51.2px;top:1006px;width:151.6px;height:39.0px;background:#28669a;border-left:2.2px solid #d92a35;box-sizing:border-box;"></div>
<div class="abs" style="left:283px;top:1005.6px;width:151.8px;height:39.1px;background:#28669a;border-left:2.2px solid #d92a35;box-sizing:border-box;"></div>
<div class="abs" style="left:516px;top:1006px;width:152.6px;height:38.7px;background:#28669a;border-left:2.2px solid #d92a35;box-sizing:border-box;"></div>
<div class="t" style="left:51.19px;top:46.70px;font-size:16.86px;line-height:16.86px;font-weight:400;color:#333;transform:scaleX(0.9115);transform-origin:0 0;">HFC TECH Sdn.Bhd.</div>
<div class="t" style="left:686.86px;top:49.40px;font-size:22.09px;line-height:22.09px;font-weight:700;color:#231f20;transform:scaleX(0.9404);transform-origin:0 0;letter-spacing:1.6px;-webkit-text-stroke:0.6px #231f20;">HFC</div>
<div class="t" style="left:50.89px;top:100.70px;font-size:27.91px;line-height:27.91px;font-weight:700;color:#28669a;transform:scaleX(1.0123);transform-origin:0 0;">Graphene Thermal</div>
<div class="t" style="left:50.88px;top:131.80px;font-size:27.91px;line-height:27.91px;font-weight:700;color:#28669a;transform:scaleX(1.0125);transform-origin:0 0;">Pad</div>
<div class="t" style="left:405.29px;top:108.20px;font-size:18.17px;line-height:18.17px;font-weight:700;color:#fff;transform:scaleX(1.0140);transform-origin:0 0;">Addresses heat dissipation problems</div>
<div class="t" style="left:376.57px;top:126.50px;font-size:18.17px;line-height:18.17px;font-weight:700;color:#fff;transform:scaleX(1.0297);transform-origin:0 0;">caused by warpage of high-power chips</div>
<div class="t" style="left:51.70px;top:183.90px;font-size:14.24px;line-height:14.24px;font-weight:400;color:#383838;transform:scaleX(0.9768);transform-origin:0 0;">Adopts directional array technology to provide a continuous heat transfer path.</div>
<div class="t" style="left:51.70px;top:199.60px;font-size:14.24px;line-height:14.24px;font-weight:400;color:#383838;transform:scaleX(0.9656);transform-origin:0 0;">Thermal performance is more than <b style="color:#28669a">10 times</b> that of conventional thermal interface materials.</div>
<div class="t" style="left:50.76px;top:217.90px;font-size:14.24px;line-height:14.24px;font-weight:400;color:#383838;transform:scaleX(0.9410);transform-origin:0 0;">Innovative advantages of <b style="color:#28669a">high reliability, high compression ratio, high resilience</b> and <b style="color:#28669a">zero pump-out</b>.</div>
<div class="t" style="left:245.88px;top:273.90px;font-size:13.52px;line-height:13.52px;font-weight:400;color:#3a3a3a;transform:scaleX(1.0200);transform-origin:0 0;">Heat sink</div>
<div class="t" style="left:260.10px;top:382.40px;font-size:13.95px;line-height:13.95px;font-weight:400;color:#3a3a3a;transform:scaleX(0.9963);transform-origin:0 0;">Chip</div>
<div class="t" style="left:561.63px;top:273.50px;font-size:13.81px;line-height:13.81px;font-weight:400;color:#28669a;transform:scaleX(0.9695);transform-origin:0 0;">Graphene <b>longitudinally</b></div>
<div class="t" style="left:562.60px;top:289.10px;font-size:13.81px;line-height:13.81px;font-weight:400;color:#28669a;transform:scaleX(0.9572);transform-origin:0 0;"><b>continuous structure</b></div>
<div class="t" style="left:561.63px;top:341.60px;font-size:13.81px;line-height:13.81px;font-weight:400;color:#28669a;transform:scaleX(0.9726);transform-origin:0 0;"><span style="color:#3a3a3a">Graphene</span> <b>structure</b></div>
<div class="t" style="left:566.73px;top:313.00px;font-size:13.95px;line-height:13.95px;font-weight:700;color:#fff;transform:scaleX(0.9660);transform-origin:0 0;">For thermal conductivity</div>
<div class="t" style="left:567.03px;top:364.10px;font-size:13.95px;line-height:13.95px;font-weight:700;color:#fff;transform:scaleX(0.9724);transform-origin:0 0;">For deformation</div>
<div class="t" style="left:69.89px;top:442.40px;font-size:25.15px;line-height:25.15px;font-weight:700;color:#28669a;transform:scaleX(1.0058);transform-origin:0 0;">Product Feature</div>
<div class="t" style="left:52.92px;top:487.80px;font-size:14.1px;line-height:14.1px;font-weight:400;color:#383838;transform:scaleX(0.9793);transform-origin:0 0;">Directional array technology, significantly improves</div>
<div class="t" style="left:52.92px;top:503.10px;font-size:14.1px;line-height:14.1px;font-weight:400;color:#383838;transform:scaleX(0.9780);transform-origin:0 0;">heat transfer efficiency</div>
<div class="t" style="left:52.97px;top:534.70px;font-size:14.1px;line-height:14.1px;font-weight:400;color:#383838;transform:scaleX(0.9297);transform-origin:0 0;"><b>High resilience</b> (≥70%)</div>
<div class="t" style="left:52.97px;top:567.20px;font-size:14.1px;line-height:14.1px;font-weight:400;color:#383838;transform:scaleX(0.9343);transform-origin:0 0;"><b>High compression ratio</b> (≥50%@50Psi)</div>
<div class="t" style="left:411.62px;top:487.80px;font-size:14.1px;line-height:14.1px;font-weight:400;color:#383838;transform:scaleX(0.9839);transform-origin:0 0;"><b>High thermal conductivity</b> (up to 130W/m·K)</div>
<div class="t" style="left:411.66px;top:534.70px;font-size:14.1px;line-height:14.1px;font-weight:400;color:#383838;transform:scaleX(0.9416);transform-origin:0 0;"><b>Low thermal resistance</b> (as low as 0.04°Ccm²/W)</div>
<div class="t" style="left:412.60px;top:567.20px;font-size:14.1px;line-height:14.1px;font-weight:400;color:#383838;transform:scaleX(0.9667);transform-origin:0 0;"><b>Zero pump-out</b></div>
<div class="t" style="left:52.50px;top:615.80px;font-size:14.24px;line-height:14.24px;font-weight:700;color:#333;transform:scaleX(0.9225);transform-origin:0 0;">Thermal resistance</div>
<div class="t" style="left:51.56px;top:631.50px;font-size:14.24px;line-height:14.24px;font-weight:700;color:#333;transform:scaleX(0.9414);transform-origin:0 0;">under different pressure conditions</div>
<div class="t" style="left:411.97px;top:615.80px;font-size:14.24px;line-height:14.24px;font-weight:700;color:#333;transform:scaleX(0.9306);transform-origin:0 0;">Compression ratio</div>
<div class="t" style="left:411.95px;top:631.50px;font-size:14.24px;line-height:14.24px;font-weight:700;color:#333;transform:scaleX(0.9456);transform-origin:0 0;">under different pressures</div>
<div class="t" style="left:70.52px;top:871.50px;font-size:25.44px;line-height:25.44px;font-weight:700;color:#28669a;transform:scaleX(0.9845);transform-origin:0 0;">Application Scenes</div>
<div class="t" style="left:60.26px;top:1017.40px;font-size:14.53px;line-height:14.53px;font-weight:400;color:#fff;transform:scaleX(0.9412);transform-origin:0 0;">Immersion Cooling</div>
<div class="t" style="left:292.28px;top:1010.40px;font-size:14.53px;line-height:14.53px;font-weight:400;color:#fff;transform:scaleX(0.9176);transform-origin:0 0;">High power GPU/CPU</div>
<div class="t" style="left:293.20px;top:1026.10px;font-size:14.53px;line-height:14.53px;font-weight:400;color:#fff;transform:scaleX(0.9177);transform-origin:0 0;">AI Data Center</div>
<div class="t" style="left:526.20px;top:1010.00px;font-size:14.53px;line-height:14.53px;font-weight:400;color:#fff;transform:scaleX(0.9368);transform-origin:0 0;">Advanced chip</div>
<div class="t" style="left:525.26px;top:1026.10px;font-size:14.53px;line-height:14.53px;font-weight:400;color:#fff;transform:scaleX(0.9421);transform-origin:0 0;">packaging(TIM1)</div>
<div class="t" style="left:52.36px;top:1072.30px;font-size:13.66px;line-height:13.66px;font-weight:400;color:#3a3a3a;transform:scaleX(1.0389);transform-origin:0 0;">Email:</div>
<div class="t" style="left:99.20px;top:1072.30px;font-size:13.66px;line-height:13.66px;font-weight:400;color:#3a3a3a;transform:scaleX(0.9956);transform-origin:0 0;">Avril@hfctech.com</div>
<div class="t" style="left:234.40px;top:1072.30px;font-size:13.66px;line-height:13.66px;font-weight:400;color:#3a3a3a;transform:scaleX(1.0250);transform-origin:0 0;">Tel:</div>
<div class="t" style="left:262.70px;top:1072.30px;font-size:13.66px;line-height:13.66px;font-weight:400;color:#3a3a3a;">+1</div>
<div class="t" style="left:285.00px;top:1072.30px;font-size:13.66px;line-height:13.66px;font-weight:400;color:#3a3a3a;">(847)</div>
<div class="t" style="left:324.50px;top:1072.30px;font-size:13.66px;line-height:13.66px;font-weight:400;color:#3a3a3a;transform:scaleX(1.0036);transform-origin:0 0;">693 1446</div>
<div class="t" style="left:615.30px;top:1071.60px;font-size:13.66px;line-height:13.66px;font-weight:400;color:#3a3a3a;transform:scaleX(1.0069);transform-origin:0 0;">www.hfcglobal.com</div>
</body></html>
